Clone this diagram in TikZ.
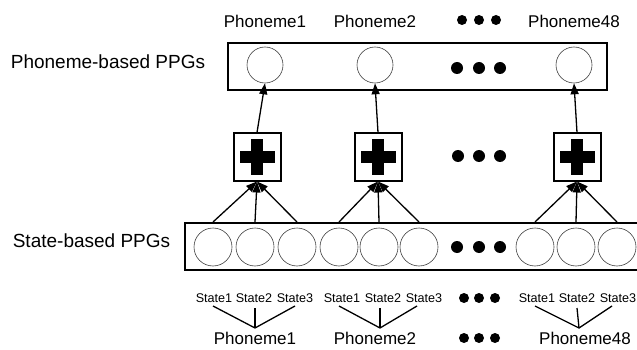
\documentclass[tikz,border=0pt]{standalone}
\usepackage{fontspec}
\setmainfont{Liberation Sans}
\usetikzlibrary{arrows.meta}
\begin{document}
\begin{tikzpicture}[x=1pt,y=-1pt,
  bigbox/.style={draw, line width=2pt, inner sep=0},
  circ/.style={draw=black!75, line width=0.6pt, circle, minimum size=36, inner sep=0},
  scirc/.style={draw=black!75, line width=0.6pt, circle, minimum size=38, inner sep=0},
  dotb/.style={circle, fill, inner sep=0, minimum size=12},
  dots/.style={circle, fill, inner sep=0, minimum size=10},
  plusbox/.style={draw, line width=2pt, minimum size=47, inner sep=0,
    path picture={
      \fill ([shift={(-17.5,-6)}]path picture bounding box.center) rectangle ([shift={(17.5,6)}]path picture bounding box.center);
      \fill ([shift={(-6,-17.5)}]path picture bounding box.center) rectangle ([shift={(6,17.5)}]path picture bounding box.center);
    }},
  arr/.style={line width=1.3pt, -{Triangle[length=11pt,width=8pt]}},
  lnk/.style={line width=1.3pt},
  biglab/.style={font=\fontsize{19}{20}\selectfont, inner sep=0},
  phlab/.style={font=\fontsize{17}{18}\selectfont, inner sep=0},
  stlab/.style={font=\fontsize{12.6}{13}\selectfont, inner sep=0}
]
\useasboundingbox (0,0) rectangle (637,350);
\clip (0,0) rectangle (637,350);

% top labels
\node[phlab] (tp1) at (265,21) {Phoneme1};
\node[phlab] (tp2) at (375,21) {Phoneme2};
\node[dots] (td1) at (462,20) {};
\node[dots] (td2) at (479,20) {};
\node[dots] (td3) at (496,20) {};
\node[phlab] (tp48) at (574,21) {Phoneme48};

% phoneme-based box
\node[biglab] (plab) at (108,62) {Phoneme-based PPGs};
\node[bigbox, minimum width=379, minimum height=47] (topbox) at (417.5,66.5) {};
\node[circ] (p1) at (265,65) {};
\node[circ] (p2) at (375,65) {};
\node[circ] (p48) at (574,65) {};
\node[dotb] (bd1) at (457,68) {};
\node[dotb] (bd2) at (479,68) {};
\node[dotb] (bd3) at (500,68) {};

% plus boxes
\node[plusbox] (plus1) at (257,157) {};
\node[plusbox] (plus2) at (378,157) {};
\node[plusbox] (plus48) at (577,157) {};
\node[dotb] (md1) at (458,156) {};
\node[dotb] (md2) at (479,156) {};
\node[dotb] (md3) at (500,156) {};

% state-based box
\node[biglab] (slab) at (91.5,241) {State-based PPGs};
\node[bigbox, minimum width=475, minimum height=47] (sbox) at (422.5,246.5) {};
\node[scirc] (s11) at (213,247) {};
\node[scirc] (s12) at (255,247) {};
\node[scirc] (s13) at (297,247) {};
\node[scirc] (s21) at (339,247) {};
\node[scirc] (s22) at (379,247) {};
\node[scirc] (s23) at (419,247) {};
\node[dotb] (sd1) at (457,247) {};
\node[dotb] (sd2) at (479,247) {};
\node[dotb] (sd3) at (500,247) {};
\node[scirc] (s31) at (535,247) {};
\node[scirc] (s32) at (576,247) {};
\node[scirc] (s33) at (617,247) {};

% arrows
\draw[arr] (plus1.north) -- (p1.south);
\draw[arr] (plus2.north) -- (p2.south);
\draw[arr] (plus48.north) -- (p48.south);
\foreach \g/\p in {1/plus1,2/plus2,3/plus48}{
  \foreach \k in {1,2,3}{
    \draw[arr] (s\g\k |- sbox.north) -- (\p.south);
  }
}

% state labels
\node[stlab] (l11) at (214,298) {State1};
\node[stlab] (l12) at (254,298) {State2};
\node[stlab] (l13) at (295,298) {State3};
\node[stlab] (l21) at (342,298) {State1};
\node[stlab] (l22) at (383,298) {State2};
\node[stlab] (l23) at (424,298) {State3};
\node[dots] (ld1) at (464,298) {};
\node[dots] (ld2) at (479,298) {};
\node[dots] (ld3) at (495,298) {};
\node[stlab] (l31) at (537,298) {State1};
\node[stlab] (l32) at (577,298) {State2};
\node[stlab] (l33) at (618,298) {State3};

\coordinate (c1) at (255,328);
\coordinate (c2) at (380,328);
\coordinate (c3) at (579,328);
\draw[lnk] (213,306) -- (c1) -- (295,306);
\draw[lnk] (255,308) -- (c1);
\draw[lnk] (339,306) -- (c2) -- (417,306);
\draw[lnk] (380,308) -- (c2);
\draw[lnk] (535,306) -- (c3) -- (612,306);
\draw[lnk] (577,308) -- (c3);

% bottom phoneme labels
\node[phlab] (bp1) at (255,338) {Phoneme1};
\node[phlab] (bp2) at (375,338) {Phoneme2};
\node[dots] (bd4) at (464,338) {};
\node[dots] (bd5) at (479,338) {};
\node[dots] (bd6) at (495,338) {};
\node[phlab] (bp48) at (585,338) {Phoneme48};
\end{tikzpicture}
\end{document}
